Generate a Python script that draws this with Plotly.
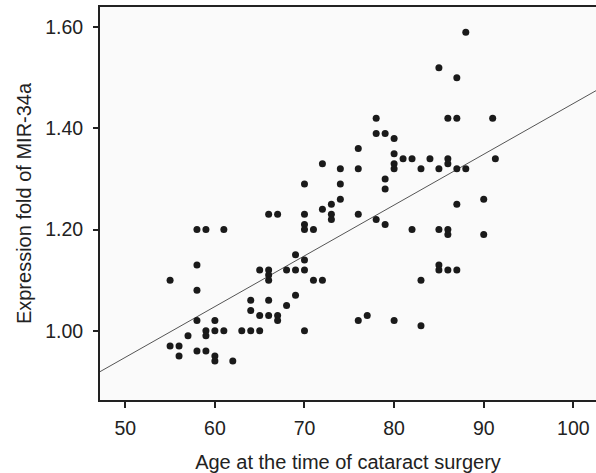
import plotly.graph_objects as go

# Age at the time of cataract surgery (years)
age = [55, 55, 56, 56, 57, 58, 59, 61, 58, 58, 58, 58, 59, 59, 59,
       60, 60, 60, 60, 61, 62, 63, 64, 64, 64, 65, 65, 65,
       66, 66, 66, 66, 66, 66, 67, 67, 67, 68, 68, 69, 69, 69,
       70, 70, 70, 70, 70, 70, 70, 71, 71, 72, 72, 72, 73, 73, 73,
       74, 74, 74, 76, 76, 76, 76, 77, 78, 78, 78,
       79, 79, 79, 79, 80, 80, 80, 80, 80, 81, 82, 82, 83, 83, 83, 84,
       85, 85, 85, 85, 85, 86, 86, 86, 86, 86, 86,
       87, 87, 87, 87, 87, 88, 88, 90, 90, 91, 91.3]

# Expression fold of MIR-34a
expr = [1.10, 0.97, 0.97, 0.95, 0.99, 1.20, 1.20, 1.20, 1.13, 1.08, 1.02, 0.96, 1.00, 0.99, 0.96,
        1.02, 1.00, 0.95, 0.94, 1.00, 0.94, 1.00, 1.00, 1.06, 1.04, 1.12, 1.03, 1.00,
        1.23, 1.12, 1.11, 1.10, 1.06, 1.03, 1.23, 1.03, 1.02, 1.12, 1.05, 1.15, 1.12, 1.07,
        1.29, 1.23, 1.21, 1.20, 1.14, 1.12, 1.00, 1.20, 1.10, 1.33, 1.24, 1.10, 1.25, 1.23, 1.22,
        1.32, 1.29, 1.26, 1.36, 1.32, 1.23, 1.02, 1.03, 1.42, 1.39, 1.22,
        1.39, 1.30, 1.28, 1.21, 1.38, 1.35, 1.33, 1.32, 1.02, 1.34, 1.34, 1.20, 1.32, 1.10, 1.01, 1.34,
        1.52, 1.32, 1.20, 1.13, 1.12, 1.42, 1.34, 1.33, 1.20, 1.19, 1.12,
        1.50, 1.42, 1.32, 1.25, 1.12, 1.59, 1.32, 1.26, 1.19, 1.42, 1.34]

# Fit line
fit_slope = 0.010038
fit_intercept = 0.4454

x_range = [47.18, 102.53]
y_range = [0.863, 1.640]
x_ticks = [50, 60, 70, 80, 90, 100]
y_ticks = [1.00, 1.20, 1.40, 1.60]

FONT = "Liberation Sans, Arial, sans-serif"
INK = "#222222"

fig = go.Figure()
fig.add_trace(go.Scatter(
    x=x_range,
    y=[fit_intercept + fit_slope * v for v in x_range],
    mode="lines",
    line=dict(color="#555555", width=1),
    hoverinfo="skip",
    showlegend=False,
))
fig.add_trace(go.Scatter(
    x=age, y=expr, mode="markers",
    marker=dict(color="#1a1a1a", size=7),
    showlegend=False,
))

fig.update_layout(
    width=596, height=473,
    margin=dict(l=100, r=0, t=7, b=73, autoexpand=False),
    paper_bgcolor="white",
    plot_bgcolor="#fafafa",
    font=dict(family=FONT, color=INK, size=19.5),
    xaxis=dict(
        range=x_range, tickvals=x_ticks, ticktext=[str(v) for v in x_ticks],
        showgrid=False, zeroline=False, automargin=False,
        showline=True, mirror=True, linecolor=INK, linewidth=2,
        ticks="outside", ticklen=6, tickwidth=2, tickcolor=INK,
        ticklabelstandoff=4,
        title=dict(text="Age at the time of cataract surgery",
                   font=dict(size=20, family=FONT, color=INK), standoff=17),
    ),
    yaxis=dict(
        range=y_range, tickvals=y_ticks, ticktext=[f"{v:.2f}" for v in y_ticks],
        showgrid=False, zeroline=False, automargin=False,
        showline=True, mirror=False, linecolor=INK, linewidth=2,
        ticks="outside", ticklen=5, tickwidth=2, tickcolor=INK,
        ticklabelstandoff=6,
        title=dict(text="Expression fold of MIR-34a",
                   font=dict(size=20, family=FONT, color=INK), standoff=8),
    ),
)

fig.write_html("out.html", config={"displayModeBar": False},
               post_script="document.body.style.margin='0px';")
